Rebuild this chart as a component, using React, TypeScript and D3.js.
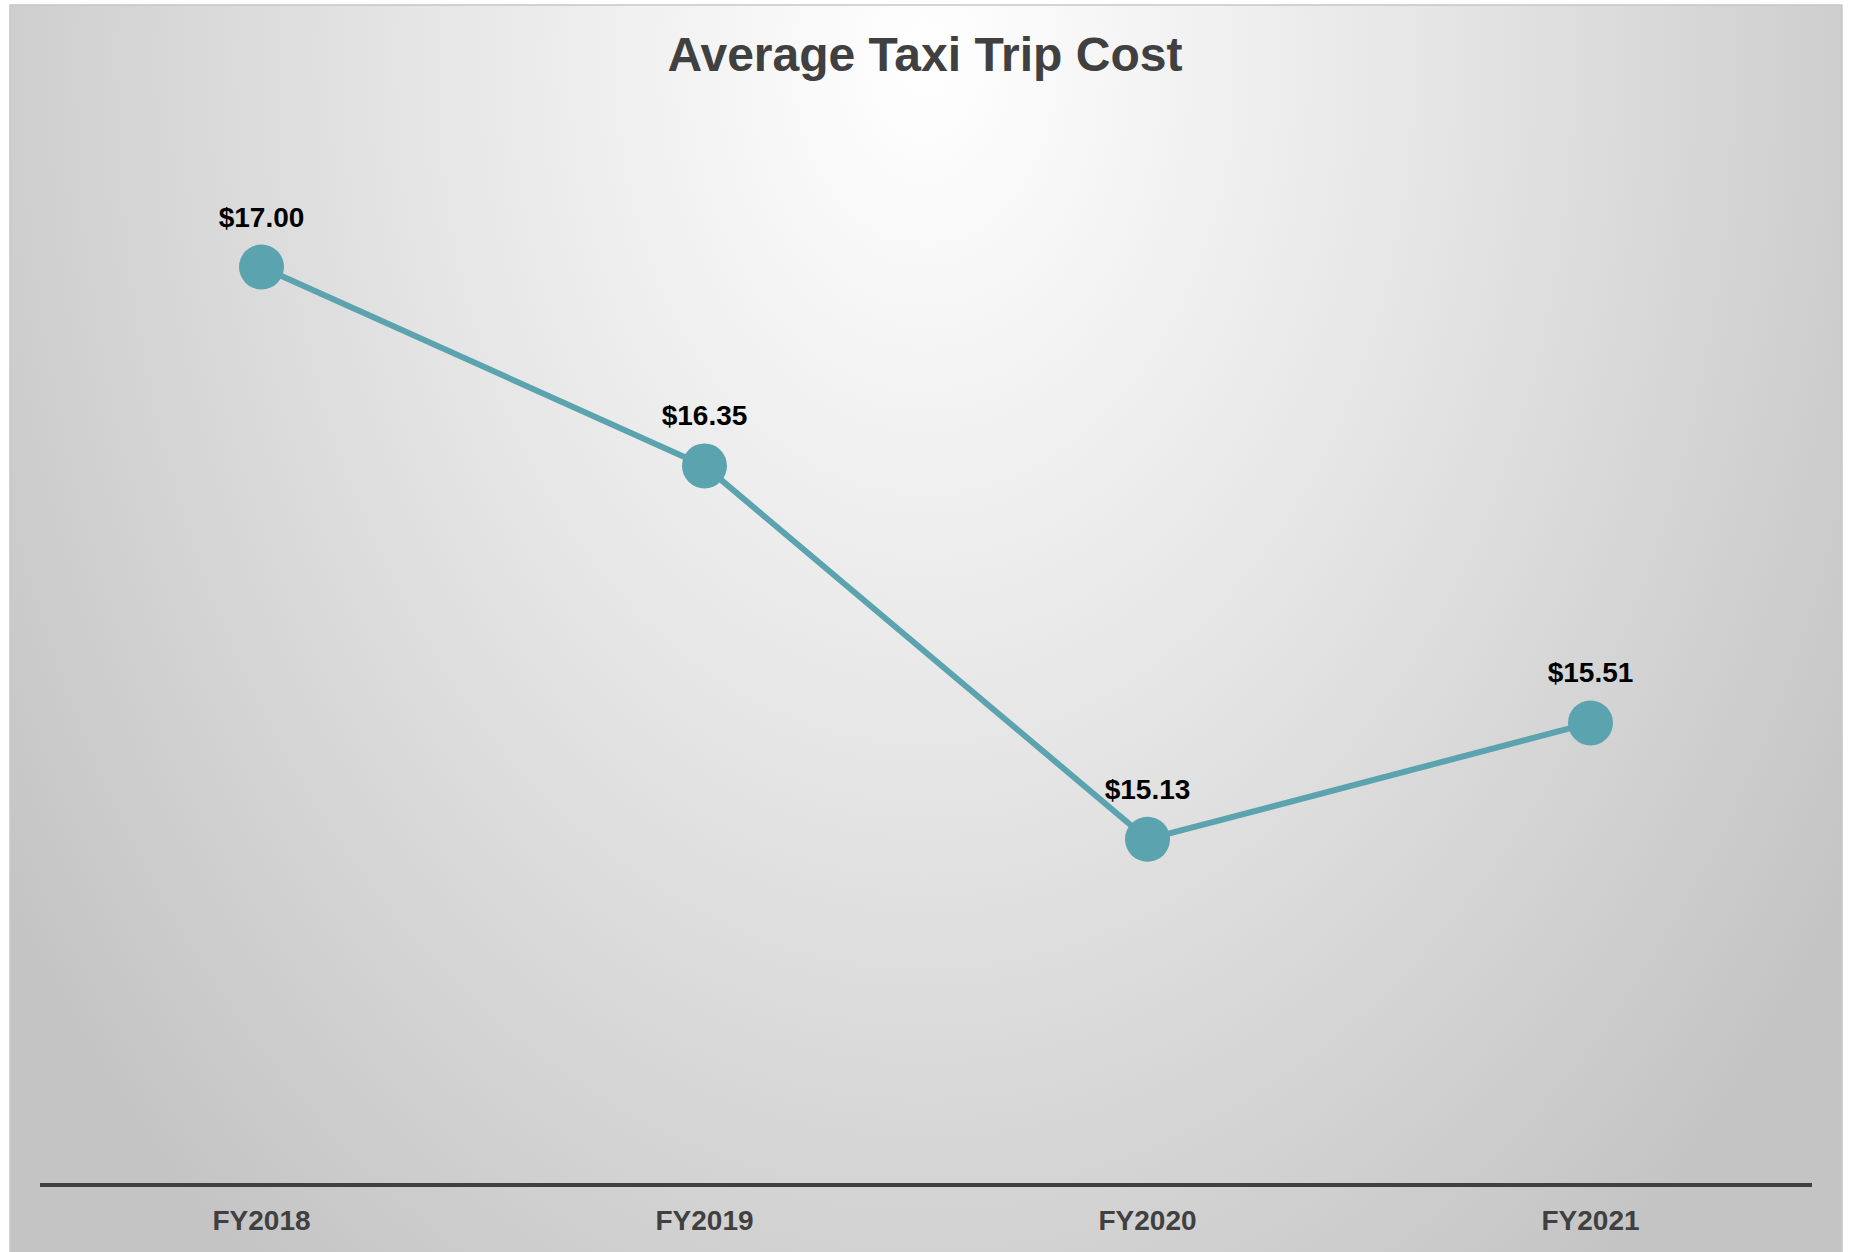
import React from "react";
import * as d3 from "d3";

const categories = ["FY2018", "FY2019", "FY2020", "FY2021"];
const values = [17.0, 16.35, 15.13, 15.51];
const valueLabels = ["$17.00", "$16.35", "$15.13", "$15.51"];
const title = "Average Taxi Trip Cost";

const W = 1849;
const H = 1252;

export default function App() {
  const x = d3.scaleBand<string>().domain(categories).range([40, 1812]);
  const y = d3.scaleLinear().domain([14, 17]).range([1185, 267]);
  const pts = categories.map((c, i) => [x(c)! + x.bandwidth() / 2, y(values[i])] as [number, number]);
  const line = d3.line()(pts) || "";
  const font = "'Liberation Sans', Arial, Helvetica, sans-serif";
  return (
    <svg
      width={W}
      height={H}
      style={{ position: "absolute", left: 0, top: 0, display: "block" }}
    >
      <defs>
        <radialGradient id="bg" gradientUnits="userSpaceOnUse" cx={925} cy={60} r={1100}
          gradientTransform="translate(925,60) scale(1,1.4) translate(-925,-60)">
          <stop offset="0" stopColor="#ffffff" />
          <stop offset="0.45" stopColor="#e6e6e6" />
          <stop offset="1" stopColor="#c4c4c4" />
        </radialGradient>
      </defs>
      <rect x={0} y={0} width={W} height={H} fill="#ffffff" />
      <rect x={10} y={5} width={1832} height={H} fill="url(#bg)" stroke="#c6c6c6" strokeWidth={1.5} />
      <text x={925} y={71} textAnchor="middle" fontFamily={font} fontWeight="bold" fontSize={48} fill="#404040">
        {title}
      </text>
      <line x1={40} x2={1812} y1={1185} y2={1185} stroke="#404040" strokeWidth={4} />
      {categories.map((c) => (
        <text key={c} x={x(c)! + x.bandwidth() / 2} y={1230} textAnchor="middle" fontFamily={font}
          fontWeight="bold" fontSize={28} fill="#404040">
          {c}
        </text>
      ))}
      <path d={line} fill="none" stroke="#5ba3ae" strokeWidth={6} strokeLinejoin="round" />
      {pts.map((p, i) => (
        <g key={i}>
          <circle cx={p[0]} cy={p[1]} r={22.5} fill="#5ba3ae" />
          <text x={p[0]} y={p[1] - 40.5} textAnchor="middle" fontFamily={font} fontWeight="bold"
            fontSize={28} fill="#000000">
            {valueLabels[i]}
          </text>
        </g>
      ))}
    </svg>
  );
}
